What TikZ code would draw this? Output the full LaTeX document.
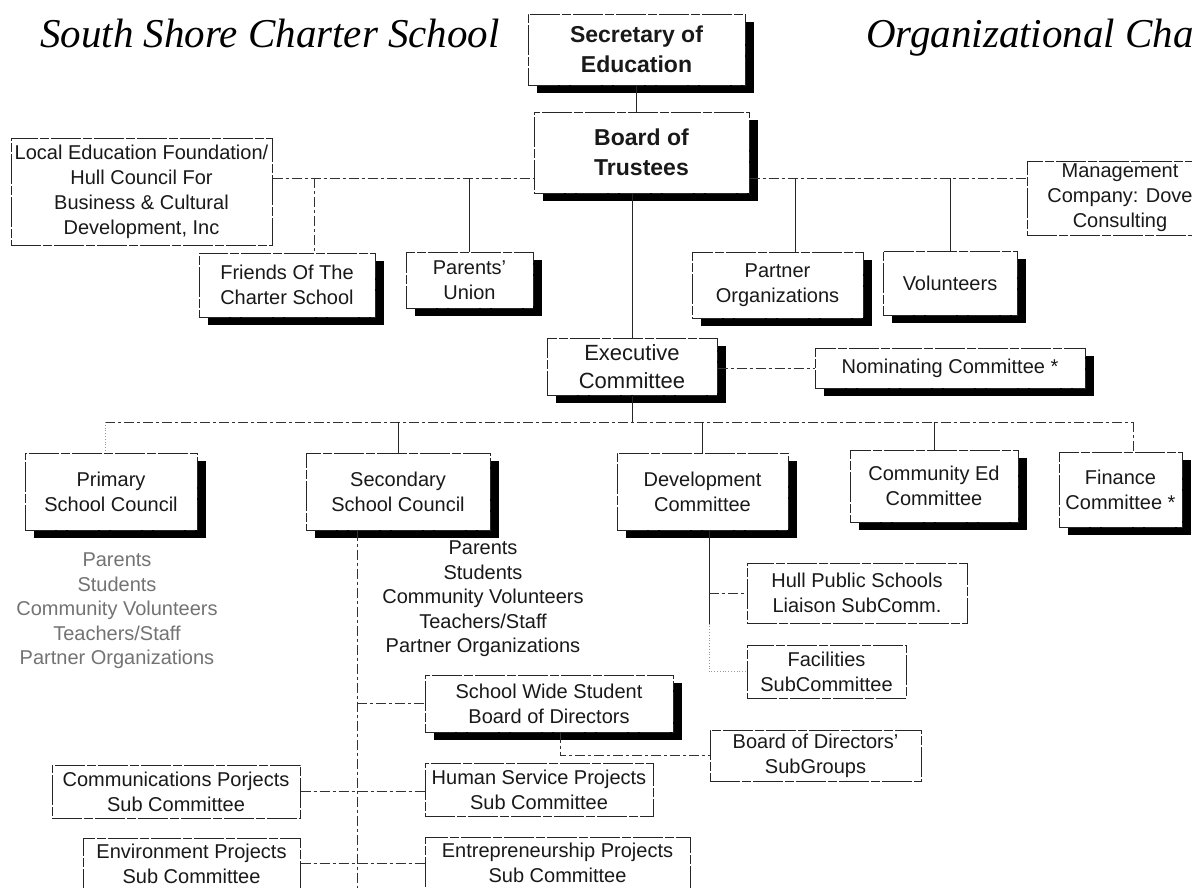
\documentclass[tikz,border=0pt]{standalone}
\usepackage{fontspec}
\setmainfont{Liberation Sans}
\newfontfamily\titlefont{Liberation Serif}
\usetikzlibrary{shadows,calc}
\def\orgbox(#1,#2,#3,#4,#5,#6,#7){
  \node[box, #6, minimum width=#4pt, minimum height=#5pt] (#1) at (#2,#3) {#7};
}
\def\orgboxS(#1,#2,#3,#4,#5,#6,#7){
  \node[box, shadowbox, #6, minimum width=#4pt, minimum height=#5pt] (#1) at (#2,#3) {#7};
}

\begin{document}
\begin{tikzpicture}[x=1pt, y=-1pt,
  box/.style={draw=black!85, fill=white, line width=1pt, inner sep=0pt, align=center, text=black!90,
    font=\fontsize{20}{25}\selectfont, dash pattern=on 30pt off 2pt on 9pt off 2pt},
  shadowbox/.style={drop shadow={shadow xshift=9pt, shadow yshift=-8pt, fill=black, opacity=1}},
  bigbold/.style={font=\bfseries\fontsize{23}{30}\selectfont},
  midfont/.style={font=\fontsize{22}{28}\selectfont},
  titletext/.style={font=\titlefont\itshape\fontsize{41}{45}\selectfont, inner sep=0pt, anchor=base west},
  listtext/.style={align=center, inner sep=0pt, font=\fontsize{20}{24.5}\selectfont},
  sline/.style={line width=1pt, black!85},
  dline/.style={line width=1pt, black!80, dash pattern=on 10pt off 3pt on 3pt off 3pt},
  fline/.style={line width=0.8pt, black!40, dotted}]
\path[use as bounding box, fill=white] (0,0) rectangle (1192,887);
\clip (0,0) rectangle (1192,887);

\node[titletext] (title) at (40,47) {South Shore Charter School};
\node[titletext] (titleR) at (866,47) {Organizational Cha};

\orgboxS(sec,636.5,49.5,217,71,bigbold,Secretary of\\Education)
\orgboxS(board,641.5,152.5,215,81,bigbold,Board of\\Trustees)
\orgbox(local,141.5,191.5,261,107,,Local Education Foundation/\\Hull Council For\\Business \& Cultural\\Development, Inc)
\orgbox(mgmt,1120,198,186,74,,Management\\Company: Dove\\Consulting)
\orgboxS(friends,287,285,176,64,,Friends Of The\\Charter School)
\orgboxS(union,469.5,280,127,56,,Parents'\\Union)
\orgboxS(partner,777.5,285,171,66,,Partner\\Organizations)
\orgboxS(vol,950,283,134,64,,Volunteers)
\orgboxS(exec,632,366.5,170,57,midfont,Executive\\Committee)
\orgboxS(nom,950,368,270,40,,Nominating Committee *)
\orgboxS(primary,111,491.5,172,77,,Primary\\School Council)
\orgboxS(secondary,398,491.5,184,77,,Secondary\\School Council)
\orgboxS(dev,702.5,491.5,171,77,,Development\\Committee)
\orgboxS(commed,934,486,168,72,,Community Ed\\Committee)
\orgboxS(finance,1120.5,489.5,123,75,,Finance\\Committee *)
\orgbox(hull,857,593,220,60,,Hull Public Schools\\Liaison SubComm.)
\orgbox(facil,826.5,671.5,159,53,,Facilities\\SubCommittee)
\orgboxS(swsb,549,703.5,248,57,,School Wide Student\\Board of Directors)
\orgbox(subgr,815.5,755.5,211,51,,Board of Directors'\\SubGroups)
\orgbox(humserv,539,789.5,228,53,,Human Service Projects\\Sub Committee)
\orgbox(commun,176,791.5,248,53,,Communications Porjects\\Sub Committee)
\orgbox(envir,191.5,863.5,217,51,,Environment Projects\\Sub Committee)
\orgbox(entre,557.5,863,265,52,,Entrepreneurship Projects\\Sub Committee)

\node[listtext, text=black!55] (plist) at (117,611) {Parents\\Students\\Community Volunteers\\Teachers/Staff\\Partner Organizations};
\node[listtext, text=black!90] (slist) at (483,599) {Parents\\Students\\Community Volunteers\\Teachers/Staff\\Partner Organizations};

\coordinate (lbus) at (314,178);
\coordinate (rbus) at (795,178);
\coordinate (cbusL) at (105,422);
\coordinate (cbusR) at (1133,422);
\coordinate (dvtop) at ([xshift=6.5pt]dev.south);
\coordinate (svtop) at ([xshift=-41pt]secondary.south);

\draw[sline] (sec.south) -- (sec.south |- board.north);
\draw[sline] (exec.north) -- (exec.north |- board.south);
\draw[dline] (local.east |- lbus) -- (board.west |- lbus);
\draw[dline] (lbus) -- (lbus |- friends.north);
\draw[sline] (union.north) -- (union.north |- lbus);
\draw[dline] (board.east |- rbus) -- (mgmt.west |- rbus);
\draw[sline] (rbus) -- (rbus |- partner.north);
\draw[sline] (vol.north) -- (vol.north |- rbus);

\draw[dline] (exec.east |- nom.west) -- (nom.west);
\draw[sline] (exec.south) -- (exec.south |- cbusL);
\draw[dline] (cbusL) -- (cbusR);
\draw[fline] (cbusL) -- (cbusL |- primary.north);
\draw[sline] (secondary.north) -- (secondary.north |- cbusL);
\draw[sline] (dev.north) -- (dev.north |- cbusL);
\draw[sline] (commed.north) -- (commed.north |- cbusL);
\draw[dline] (cbusR) -- (cbusR |- finance.north);

\draw[sline] (dvtop) -- (dvtop |- hull.south);
\draw[dline] (dvtop |- hull.west) -- (hull.west);
\draw[fline] (dvtop |- hull.south) -- (dvtop |- facil.west) -- (facil.west);

\draw[dline] (svtop) -- (svtop |- envir.south);
\draw[dline] (svtop |- swsb.west) -- (swsb.west);
\draw[dline] (commun.east) -- (commun.east -| humserv.west);
\draw[dline] (envir.east) -- (envir.east -| entre.west);
\draw[dline] ([xshift=11pt]swsb.south) |- (subgr.west);
\end{tikzpicture}
\end{document}
